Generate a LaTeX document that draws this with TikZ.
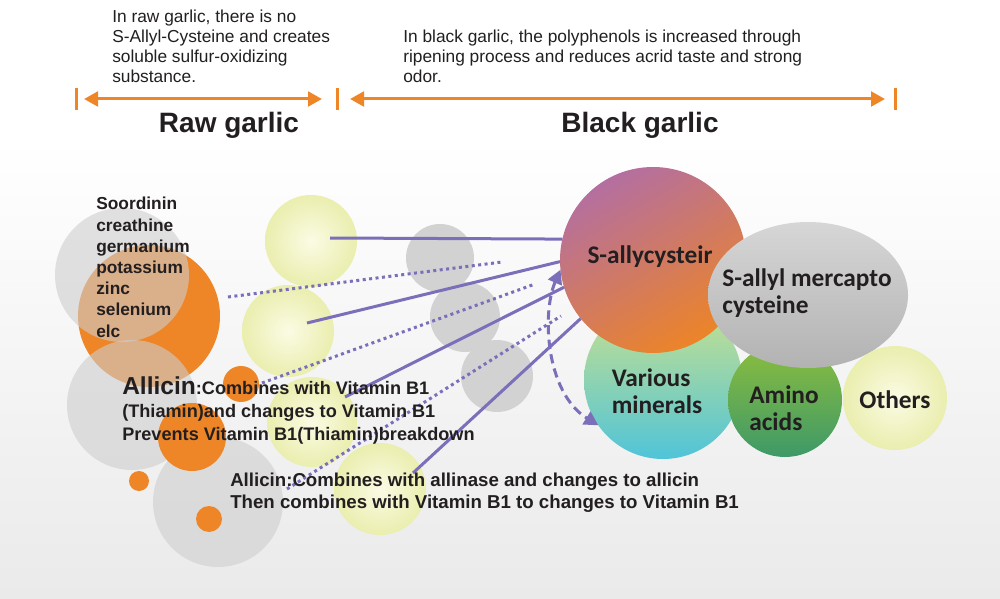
\documentclass[tikz,border=0pt]{standalone}
\usepackage{fontspec}
\setmainfont{Liberation Sans}
\newfontfamily\calibrifont{Carlito}
\usetikzlibrary{shapes.geometric, arrows.meta, positioning}

\definecolor{garlicorange}{HTML}{EE8526}
\definecolor{linkpurple}{HTML}{7B6FB9}
\definecolor{ballgrey}{HTML}{CECECE}
\definecolor{midgrey}{HTML}{D2D2D2}
\definecolor{paleinner}{HTML}{FBFBE4}
\definecolor{paleouter}{HTML}{EAEEAE}
\definecolor{inkblack}{HTML}{231F20}
\definecolor{bgbottom}{HTML}{EAEAEA}
\definecolor{sactop}{HTML}{B46FA0}
\definecolor{sacmid}{HTML}{BC6168}
\definecolor{sacbottom}{HTML}{EC8428}
\definecolor{vmtop}{HTML}{CBE18C}
\definecolor{vmbottom}{HTML}{50C4D8}
\definecolor{aminotop}{HTML}{8CBE3E}
\definecolor{aminobottom}{HTML}{3E9968}

\tikzset{
  ball/.style={circle, inner sep=0pt, outer sep=0pt},
  orangeball/.style={ball, fill=garlicorange},
  greyball/.style={ball, fill=ballgrey, fill opacity=0.6},
  paleball/.style={ball, inner color=paleinner, outer color=paleouter},
  midball/.style={ball, fill=midgrey},
  link/.style={draw=linkpurple, line width=2.25pt},
  dotlink/.style={link, dash pattern=on 2.25pt off 2.6pt},
  dashlink/.style={link, dash pattern=on 7pt off 4pt},
  span/.style={draw=garlicorange, line width=2.25pt},
  notetext/.style={inner sep=0pt, align=left, text=inkblack, font=\fontsize{13}{15}\selectfont},
  listtext/.style={inner sep=0pt, align=left, text=inkblack, font=\bfseries\fontsize{13}{15.9}\selectfont},
  titletext/.style={inner sep=0pt, text=inkblack, font=\bfseries\fontsize{21}{25}\selectfont},
  balllabel/.style={inner sep=0pt, text=inkblack, align=left, font=\calibrifont\bfseries\fontsize{19}{20}\selectfont}
}

\begin{document}
\begin{tikzpicture}[x=0.75pt, y=-0.75pt, >={Triangle[length=10.5pt,width=11pt]}]
    \useasboundingbox (0,0) rectangle (1000,599);
    % background
    \fill[white] (0,0) rectangle (1000,140);
    \shade[top color=white, bottom color=bgbottom] (0,140) rectangle (1000,599);

    % header spans
    \draw[span] (76,88) -- (76,110);
    \draw[span] (337,88) -- (337,110);
    \draw[span] (895,88) -- (895,110);
    \coordinate (rawleft) at (84,99);
    \coordinate (rawright) at (322,99);
    \coordinate (blackleft) at (350,99);
    \coordinate (blackright) at (885,99);
    \draw[span, <->] (rawleft) -- (rawright);
    \draw[span, <->] (blackleft) -- (blackright);

    \node[notetext, anchor=north west] (rawnote) at (112,10) {In raw garlic, there is no\\S-Allyl-Cysteine and creates\\soluble sulfur-oxidizing\\substance.};
    \node[notetext, anchor=north west] (blacknote) at (403,30) {In black garlic, the polyphenols is increased through\\ripening process and reduces acrid taste and strong\\odor.};
    \node[titletext, anchor=base] (rawtitle) at (229,133) {Raw garlic};
    \node[titletext, anchor=base] (blacktitle) at (640,133) {Black garlic};

    % raw garlic side
    \node[orangeball, minimum size=106.5pt] (orangebig) at (149,316) {};
    \node[greyball, minimum size=100.5pt] (greytop) at (122,275) {};
    \node[greyball, minimum size=97.5pt] (greylow) at (132,405) {};
    \node[greyball, minimum size=97.5pt] (greybottom) at (218,502) {};
    \node[orangeball, minimum size=27pt] (orangesmall) at (241,384) {};
    \node[orangeball, minimum size=51pt] (orangemid) at (192,437) {};
    \node[orangeball, minimum size=15pt] (orangetiny) at (139,481) {};
    \node[orangeball, minimum size=19.5pt] (orangedot) at (209,519) {};

    \node[paleball, minimum size=69pt] (paleone) at (311,241) {};
    \node[paleball, minimum size=69pt] (paletwo) at (288,331) {};
    \node[paleball, minimum size=67.5pt] (palethree) at (312,422) {};
    \node[paleball, minimum size=69pt] (palefour) at (380,489) {};

    \node[midball, minimum size=51pt] (midone) at (440,258) {};
    \node[midball, minimum size=52.5pt] (midtwo) at (465,317) {};
    \node[midball, minimum size=54pt] (midthree) at (497,376) {};

    % black garlic side
    \node[ball, minimum size=118.5pt, top color=vmtop, bottom color=vmbottom] (vm) at (663,380) {};
    \node[ball, minimum size=85.5pt, top color=aminotop, bottom color=aminobottom] (amino) at (785,400) {};
    \node[ball, minimum size=139.5pt, top color=sactop, middle color=sacmid, bottom color=sacbottom, shading angle=30] (sac) at (653,260) {};
    \node[ellipse, inner sep=0pt, minimum width=150pt, minimum height=109.5pt, top color=gray!32, bottom color=gray!60] (smc) at (808,295) {};
    \node[ball, minimum size=78pt, inner color=paleinner, outer color=paleouter] (others) at (895,398) {};

    \node[balllabel] (sactext) at (650,257) {S-allycysteir};
    \node[balllabel] (smctext) at (807,293) {S-allyl mercapto\\cysteine};
    \node[balllabel] (vmtext) at (657,391) {Various\\minerals};
    \node[balllabel] (aminotext) at (784,408) {Amino\\acids};
    \node[balllabel] (otherstext) at (895,400) {Others};

    % links
    \coordinate (startone) at (330,238);
    \coordinate (starttwo) at (307,323);
    \coordinate (startthree) at (345,397);
    \coordinate (startfour) at (413,473);
    \draw[link] (startone) -- (sac.167);
    \draw[link] (starttwo) -- (sac.181);
    \draw[link] (startthree) -- (sac.197);
    \draw[link] (startfour) -- (sac.219);

    \coordinate (dotastart) at (228,297);
    \coordinate (dotaend) at (502,262);
    \coordinate (dotbstart) at (262,383);
    \coordinate (dotbend) at (535,284);
    \coordinate (dotcstart) at (287,489);
    \coordinate (dotcend) at (561,316);
    \draw[dotlink] (dotastart) -- (dotaend);
    \draw[dotlink] (dotbstart) -- (dotbend);
    \draw[dotlink] (dotcstart) -- (dotcend);

    \draw[dashlink, <->] (sac.186) .. controls (542,312) and (545,392) .. (vm.215);

    % texts
    \node[listtext, anchor=north west] (minerallist) at (96,197) {Soordinin\\creathine\\germanium\\potassium\\zinc\\selenium\\elc};
    \node[listtext, anchor=north west, font=\bfseries\fontsize{13.6}{17.25}\selectfont] (allicinone) at (122,376) {{\fontsize{18.4}{17.25}\selectfont Allicin}:Combines with Vitamin B1\\(Thiamin)and changes to Vitamin B1\\Prevents Vitamin B1(Thiamin)breakdown};
    \node[listtext, anchor=north west, font=\bfseries\fontsize{14}{16.5}\selectfont] (allicintwo) at (230,473) {Allicin:Combines with allinase and changes to allicin\\Then combines with Vitamin B1 to changes to Vitamin B1};
\end{tikzpicture}
\end{document}
